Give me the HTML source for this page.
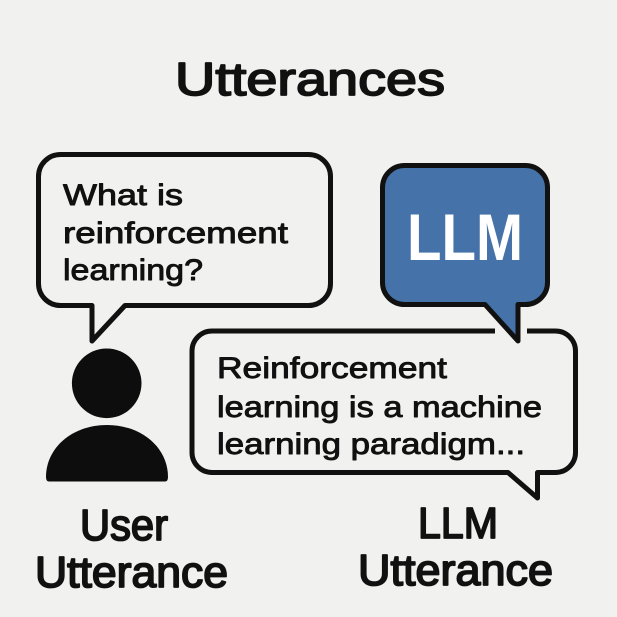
<!DOCTYPE html>
<html>
<head>
<meta charset="utf-8">
<style>
  html,body{margin:0;padding:0;background:#f1f1ef;}
  svg{display:block;}
  text{font-family:"Liberation Sans", sans-serif;}
</style>
</head>
<body>
<svg width="617" height="617" viewBox="0 0 617 617" xmlns="http://www.w3.org/2000/svg">
  <rect x="0" y="0" width="617" height="617" fill="#f1f1ef"/>

  <!-- Title -->
  <text x="175" y="95" font-size="46" textLength="270" lengthAdjust="spacingAndGlyphs" fill="#111" stroke="#111" stroke-width="1.7" stroke-linejoin="round">Utterances</text>

  <!-- Left user bubble -->
  <path d="M 60.5 154.5 H 308.5 A 22 22 0 0 1 330.5 176.5 V 283.5 A 22 22 0 0 1 308.5 305.5 H 125 L 92 341 V 305.5 H 60.5 A 22 22 0 0 1 38.5 283.5 V 176.5 A 22 22 0 0 1 60.5 154.5 Z"
        fill="#f1f1ef" stroke="#111" stroke-width="5" stroke-linejoin="round"/>
  <g fill="#111" stroke="#111" stroke-width="0.9" stroke-linejoin="round" font-size="30">
    <text x="63" y="205" textLength="120" lengthAdjust="spacingAndGlyphs">What is</text>
    <text x="63" y="243" textLength="225" lengthAdjust="spacingAndGlyphs">reinforcement</text>
    <text x="63" y="280" textLength="140" lengthAdjust="spacingAndGlyphs">learning?</text>
  </g>

  <!-- Person icon -->
  <circle cx="106.7" cy="383.3" r="34.8" fill="#0d0d0d"/>
  <path d="M 49 481.5 Q 46 481.5 46 477 C 46 448 72 425 107 425 C 142 425 168 448 168 477 Q 168 481.5 165 481.5 Z" fill="#0d0d0d"/>

  <!-- Bottom LLM response bubble (with gap on top) -->
  <path d="M 527 331 H 555.5 A 20 20 0 0 1 575.5 351 V 452.5 A 20 20 0 0 1 555.5 472.5 H 537.5 V 498 L 508 472.5 H 212 A 20 20 0 0 1 192 452.5 V 351 A 20 20 0 0 1 212 331 H 495"
        fill="none" stroke="#111" stroke-width="5" stroke-linejoin="round"/>
  <g fill="#111" stroke="#111" stroke-width="0.9" stroke-linejoin="round" font-size="30">
    <text x="217" y="378" textLength="230" lengthAdjust="spacingAndGlyphs">Reinforcement</text>
    <text x="217" y="417" textLength="325" lengthAdjust="spacingAndGlyphs">learning is a machine</text>
    <text x="217" y="454" textLength="308" lengthAdjust="spacingAndGlyphs">learning paradigm...</text>
  </g>

  <!-- LLM blue bubble -->
  <path d="M 404.5 165.5 H 525.5 A 22 22 0 0 1 547.5 187.5 V 282.5 A 22 22 0 0 1 525.5 304.5 H 518 V 341 L 485 304.5 H 404.5 A 22 22 0 0 1 382.5 282.5 V 187.5 A 22 22 0 0 1 404.5 165.5 Z"
        fill="#4572a8" stroke="#111" stroke-width="5" stroke-linejoin="round"/>
  <text x="407" y="260" font-size="66" font-weight="bold" textLength="116" lengthAdjust="spacingAndGlyphs" fill="#ffffff">LLM</text>

  <!-- Labels -->
  <g fill="#111" stroke="#111" stroke-width="1.8" stroke-linejoin="round" font-size="44">
    <text x="80" y="540" textLength="88" lengthAdjust="spacingAndGlyphs">User</text>
    <text x="35" y="587" textLength="193" lengthAdjust="spacingAndGlyphs">Utterance</text>
    <text x="418" y="538" textLength="80" lengthAdjust="spacingAndGlyphs">LLM</text>
    <text x="358" y="585" textLength="195" lengthAdjust="spacingAndGlyphs">Utterance</text>
  </g>
</svg>
</body>
</html>
